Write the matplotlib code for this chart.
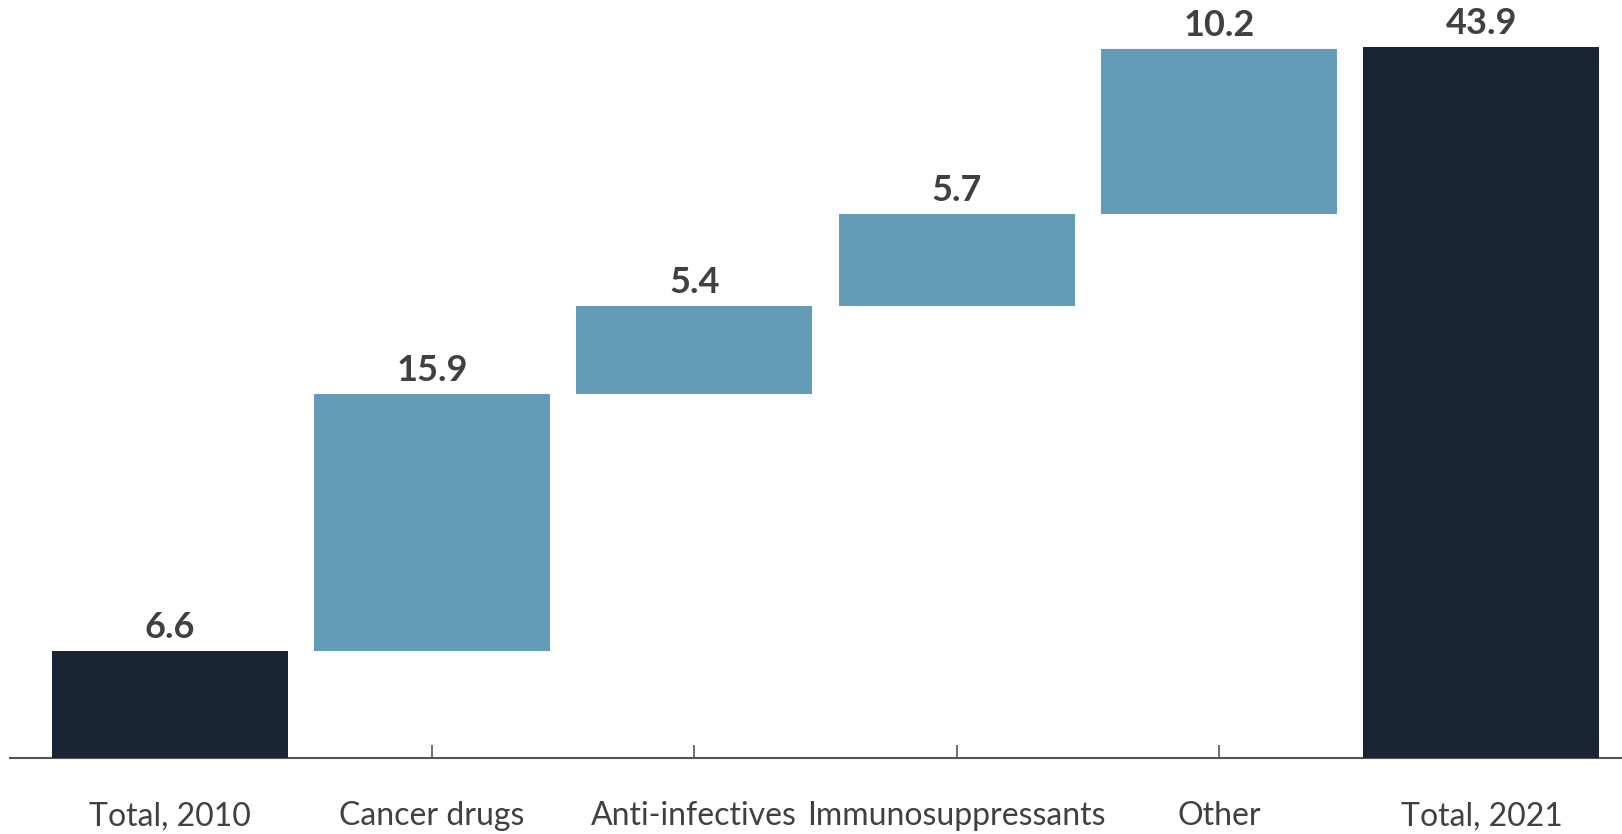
import matplotlib.pyplot as plt
import numpy as np

categories = ["Total, 2010", "Cancer drugs", "Anti-infectives", "Immunosuppressants", "Other", "Total, 2021"]
values = [6.6, 15.9, 5.4, 5.7, 10.2, 43.9]
is_total = [True, False, False, False, False, True]

DARK = "#1a2533"
BLUE = "#629cb7"
TEXT = "#404040"

plt.rcParams["font.family"] = ["Lato", "DejaVu Sans"]

# waterfall bottoms: totals start at zero, steps start at the running sum
bottoms = []
running = 0.0
for v, tot in zip(values, is_total):
    if tot:
        bottoms.append(0.0)
        running = v
    else:
        bottoms.append(running)
        running += v

x = np.arange(len(categories))
colors = [DARK if t else BLUE for t in is_total]

fig = plt.figure(figsize=(16.22, 8.34), dpi=100)
ax = fig.add_axes([0.0064, 0.0911, 0.9936, 0.9089])

bars = ax.bar(x, values, bottom=bottoms, width=0.9, color=colors, zorder=3)

for xi, v, b in zip(x, values, bottoms):
    ax.annotate(f"{v:.1f}", (xi, b + v), xytext=(0, 5), textcoords="offset points",
                ha="center", va="bottom", fontsize=26, fontweight="bold", color=TEXT)

ax.set_xlim(-0.607, 5.536)
ax.set_ylim(0, 46.8)
ax.set_xticks(x)
ax.set_xticklabels(categories, fontsize=23, color=TEXT)
ax.tick_params(axis="x", direction="in", length=9.5, width=1.2, color="#555555", pad=31)
ax.set_yticks([])
for s in ["top", "right", "left"]:
    ax.spines[s].set_visible(False)
ax.spines["bottom"].set_color("#555555")
ax.spines["bottom"].set_linewidth(1.5)

fig.savefig("out.png", dpi=100)
